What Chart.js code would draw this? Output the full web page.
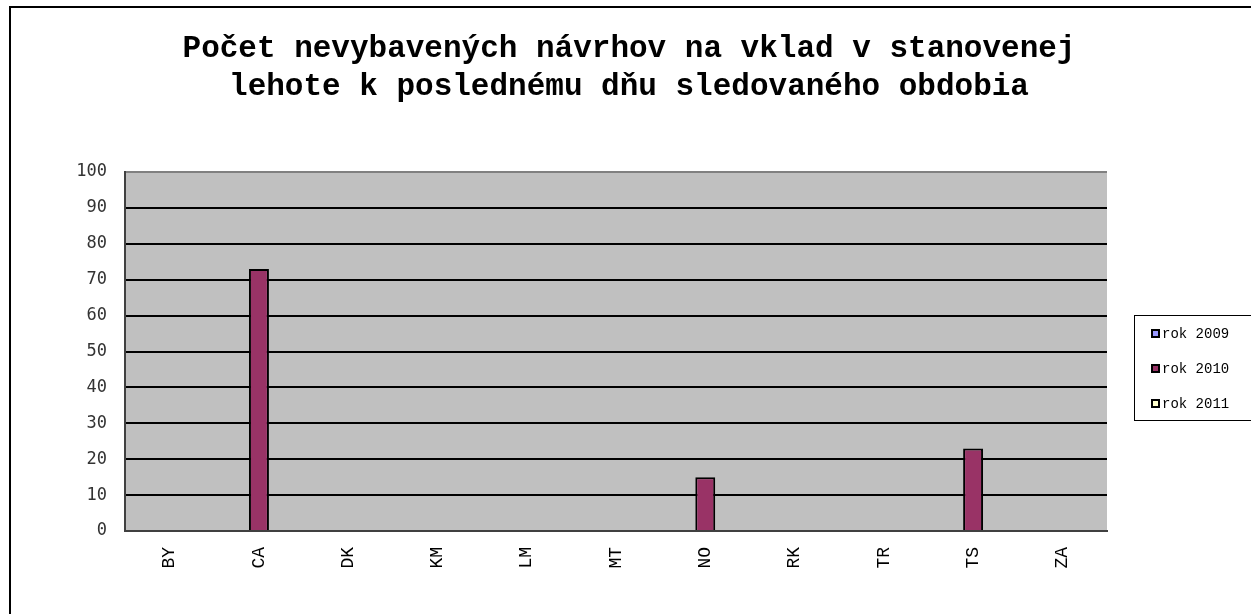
<!DOCTYPE html>
<html>
<head>
<meta charset="utf-8">
<script src="https://cdn.jsdelivr.net/npm/chart.js@4"></script>
<style>
  html, body { margin: 0; padding: 0; background: #fff; }
  #wrap { width: 1251px; height: 614px; position: relative; }
</style>
</head>
<body>
<div id="wrap"><canvas id="chart" width="1251" height="614"></canvas></div>
<script>
// data
const categories = ['BY', 'CA', 'DK', 'KM', 'LM', 'MT', 'NO', 'RK', 'TR', 'TS', 'ZA'];
const rok2009 = [0, 0, 0, 0, 0, 0, 0, 0, 0, 0, 0];
const rok2010 = [0, 73, 0, 0, 0, 0, 15, 0, 0, 23, 0];
const rok2011 = [0, 0, 0, 0, 0, 0, 0, 0, 0, 0, 0];
const seriesNames = ['rok 2009', 'rok 2010', 'rok 2011'];
const seriesColors = ['#9999FF', '#993366', '#FFFFCC'];
const yTicks = [0, 10, 20, 30, 40, 50, 60, 70, 80, 90, 100];

const titleLines = [
    'Počet nevybavených návrhov na vklad v stanovenej',
    'lehote k poslednému dňu sledovaného obdobia'
];

const monoFont = '"Liberation Mono", "Courier New", monospace';

// rámik, nadpis, šedé pozadie a vlastná legenda
const decor = {
    id: 'decor',
    beforeDraw(chart) {
        const c = chart.ctx;
        const a = chart.chartArea;
        c.save();
        c.fillStyle = '#C0C0C0';
        c.fillRect(a.left, a.top, a.right - a.left, a.bottom - a.top);
        c.strokeStyle = '#000';
        c.lineWidth = 2;
        c.beginPath();
        c.moveTo(10, 614);
        c.lineTo(10, 7);
        c.lineTo(1251, 7);
        c.stroke();
        // nadpis
        c.fillStyle = '#000';
        c.font = 'bold 31px ' + monoFont;
        c.textAlign = 'center';
        c.textBaseline = 'middle';
        titleLines.forEach((t, i) => c.fillText(t, 629, 49 + i * 38));
        c.restore();
    },
    afterDraw(chart) {
        const c = chart.ctx;
        c.save();
        // legenda
        c.fillStyle = '#fff';
        c.fillRect(1134, 315, 130, 105);
        c.strokeStyle = '#000';
        c.lineWidth = 1;
        c.strokeRect(1134.5, 315.5, 130, 105);
        c.font = '14px ' + monoFont;
        c.textBaseline = 'middle';
        chart.data.datasets.forEach((ds, i) => {
            const y = 333 + i * 35;
            c.fillStyle = ds.backgroundColor;
            c.fillRect(1152, y - 3, 7, 7);
            c.strokeStyle = '#000';
            c.lineWidth = 2;
            c.strokeRect(1152, y - 3, 7, 7);
            c.fillStyle = '#000';
            c.fillText(ds.label, 1162, y + 1);
        });
        c.restore();
    }
};

const datasets = [rok2009, rok2010, rok2011].map((vals, i) => ({
    label: seriesNames[i],
    data: vals,
    backgroundColor: seriesColors[i],
    borderColor: '#000',
    borderWidth: ctx => ctx.raw ? 2 : 0,
    borderSkipped: 'bottom',
    categoryPercentage: 0.67,
    barPercentage: 1.0
}));

new Chart(document.getElementById('chart'), {
    type: 'bar',
    data: { labels: categories, datasets: datasets },
    options: {
        responsive: false,
        animation: false,
        layout: { padding: { left: 0, right: 144, top: 172, bottom: 0 } },
        plugins: {
            legend: { display: false },
            tooltip: { enabled: false },
            title: { display: false }
        },
        scales: {
            x: {
                grid: { display: false },
                border: { display: true, color: '#404040', width: 2 },
                ticks: {
                    color: '#000',
                    font: { family: monoFont, size: 18 },
                    minRotation: 90,
                    maxRotation: 90,
                    padding: 8
                },
                afterFit: s => { s.height = 83; }
            },
            y: {
                min: 0,
                max: 100,
                afterBuildTicks: s => { s.ticks = yTicks.map(v => ({ value: v })); },
                grid: {
                    color: ctx => ctx.tick && ctx.tick.value === 100 ? '#808080' : (ctx.tick && ctx.tick.value === 0 ? 'rgba(0,0,0,0)' : '#000'),
                    lineWidth: 2,
                    drawTicks: false
                },
                border: { display: true, color: '#404040', width: 2 },
                ticks: {
                    color: '#333',
                    font: { family: '"DejaVu Sans Mono", monospace', size: 17 },
                    padding: 18
                },
                afterFit: s => { s.width = 125; }
            }
        }
    },
    plugins: [decor]
});
</script>
</body>
</html>
